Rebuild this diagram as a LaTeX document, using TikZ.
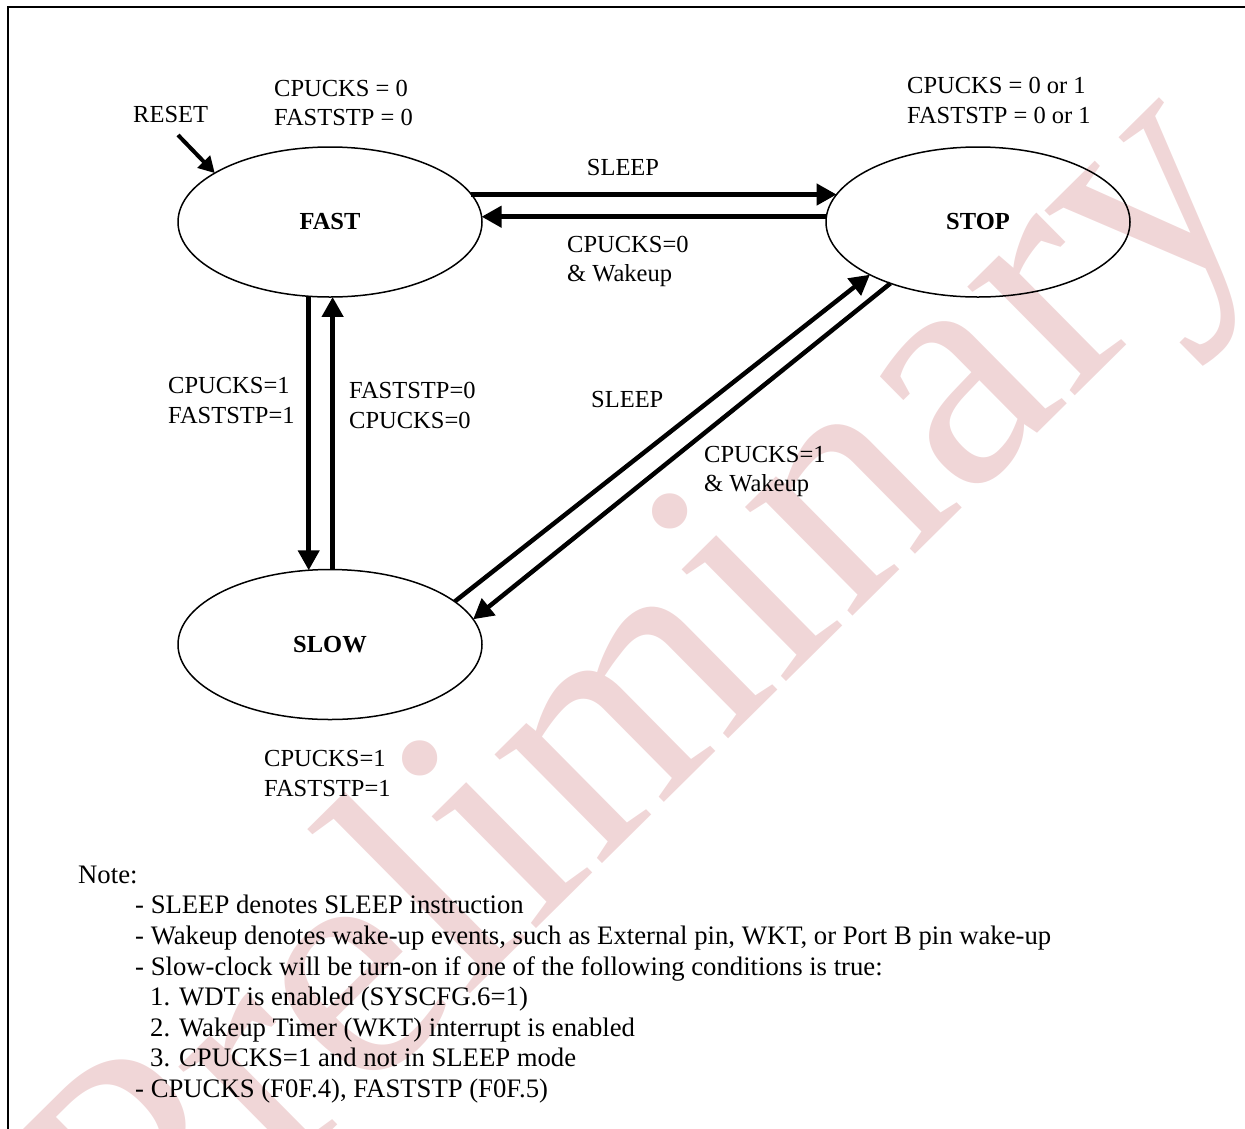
\documentclass[tikz,border=0pt]{standalone}
\usepackage{fontspec}
\setmainfont{Liberation Serif}
\usetikzlibrary{shapes.geometric,arrows.meta}
\definecolor{wmpink}{RGB}{240,214,215}
\begin{document}
\begin{tikzpicture}[x=1pt,y=-1pt,
  txt/.style={font=\fontsize{24.5}{29.5}\selectfont},
  notetxt/.style={font=\fontsize{26.7}{30.6}\selectfont},
  state/.style={draw, ellipse, line width=1.5pt, minimum width=304pt,
    minimum height=150pt, inner sep=0pt, outer sep=0pt,
    font=\fontsize{24.5}{29.5}\selectfont\bfseries},
  lbl/.style={txt, anchor=base west, inner sep=0pt},
  clbl/.style={txt, anchor=base, inner sep=0pt},
  note/.style={notetxt, anchor=base west, inner sep=0pt},
  bigarrow/.style={line width=4.5pt, -{Triangle[length=20pt,width=21pt]}},
  resetarrow/.style={line width=4pt, -{Triangle[length=16pt,width=17pt]}},
  wm/.style={anchor=base west, inner sep=0pt, rotate=44.7, text=wmpink,
    font=\fontsize{333}{333}\selectfont}]
\useasboundingbox (0,0) rectangle (1245,1128);

% watermark
\begin{scope}
  \clip (0,0) rectangle (1245,1128);
  \node[wm] (wmark) at (150,1311) {Preliminary};
\end{scope}

% frame
\draw[line width=2pt] (8,1140) -- (8,7) -- (1260,7);

% states
\node[state] (fast) at (330,222) {FAST};
\node[state] (stop) at (978,222) {STOP};
\node[state] (slow) at (330,644.5) {SLOW};

% transitions
\coordinate (resetstart) at (178,135);
\draw[resetarrow] (resetstart) -- (fast.157);
\draw[bigarrow] (fast.11) -- (stop.169);
\draw[bigarrow] (stop.178) -- (fast.2);
\draw[bigarrow] (fast.254) -- (slow.106);
\draw[bigarrow] (slow.88) -- (fast.272);
\draw[bigarrow] (slow.19) -- (stop.206);
\draw[bigarrow] (stop.215) -- (slow.10);

% labels
\node[lbl] (resetlbl) at (133,122) {RESET};
\node[lbl] (fastc1) at (274,96) {CPUCKS = 0};
\node[lbl] (fastc2) at (274,125) {FASTSTP = 0};
\node[lbl] (stopc1) at (907,93) {CPUCKS = 0 or 1};
\node[lbl] (stopc2) at (907,123) {FASTSTP = 0 or 1};
\node[clbl] (sleepa) at (623,175) {SLEEP};
\node[lbl] (wakea1) at (567,252) {CPUCKS=0};
\node[lbl] (wakea2) at (567,281) {\& Wakeup};
\node[lbl] (downl1) at (168,393) {CPUCKS=1};
\node[lbl] (downl2) at (168,423) {FASTSTP=1};
\node[lbl] (upl1) at (349,398) {FASTSTP=0};
\node[lbl] (upl2) at (349,428) {CPUCKS=0};
\node[lbl] (sleepb) at (591,407) {SLEEP};
\node[lbl] (wakeb1) at (704,462) {CPUCKS=1};
\node[lbl] (wakeb2) at (704,491) {\& Wakeup};
\node[lbl] (slowc1) at (264,766) {CPUCKS=1};
\node[lbl] (slowc2) at (264,796) {FASTSTP=1};

% notes
\node[note] (note0) at (78,883) {Note:};
\node[note] (note1) at (135,913.5) {- SLEEP denotes SLEEP instruction};
\node[note] (note2) at (135,944) {- Wakeup denotes wake-up events, such as External pin, WKT, or Port B pin wake-up};
\node[note] (note3) at (135,975) {- Slow-clock will be turn-on if one of the following conditions is true:};
\node[note] (note4) at (150,1005.5) {1. WDT is enabled (SYSCFG.6=1)};
\node[note] (note5) at (150,1036) {2. Wakeup Timer (WKT) interrupt is enabled};
\node[note] (note6) at (150,1066.5) {3. CPUCKS=1 and not in SLEEP mode};
\node[note] (note7) at (135,1097) {- CPUCKS (F0F.4), FASTSTP (F0F.5)};
\end{tikzpicture}
\end{document}
